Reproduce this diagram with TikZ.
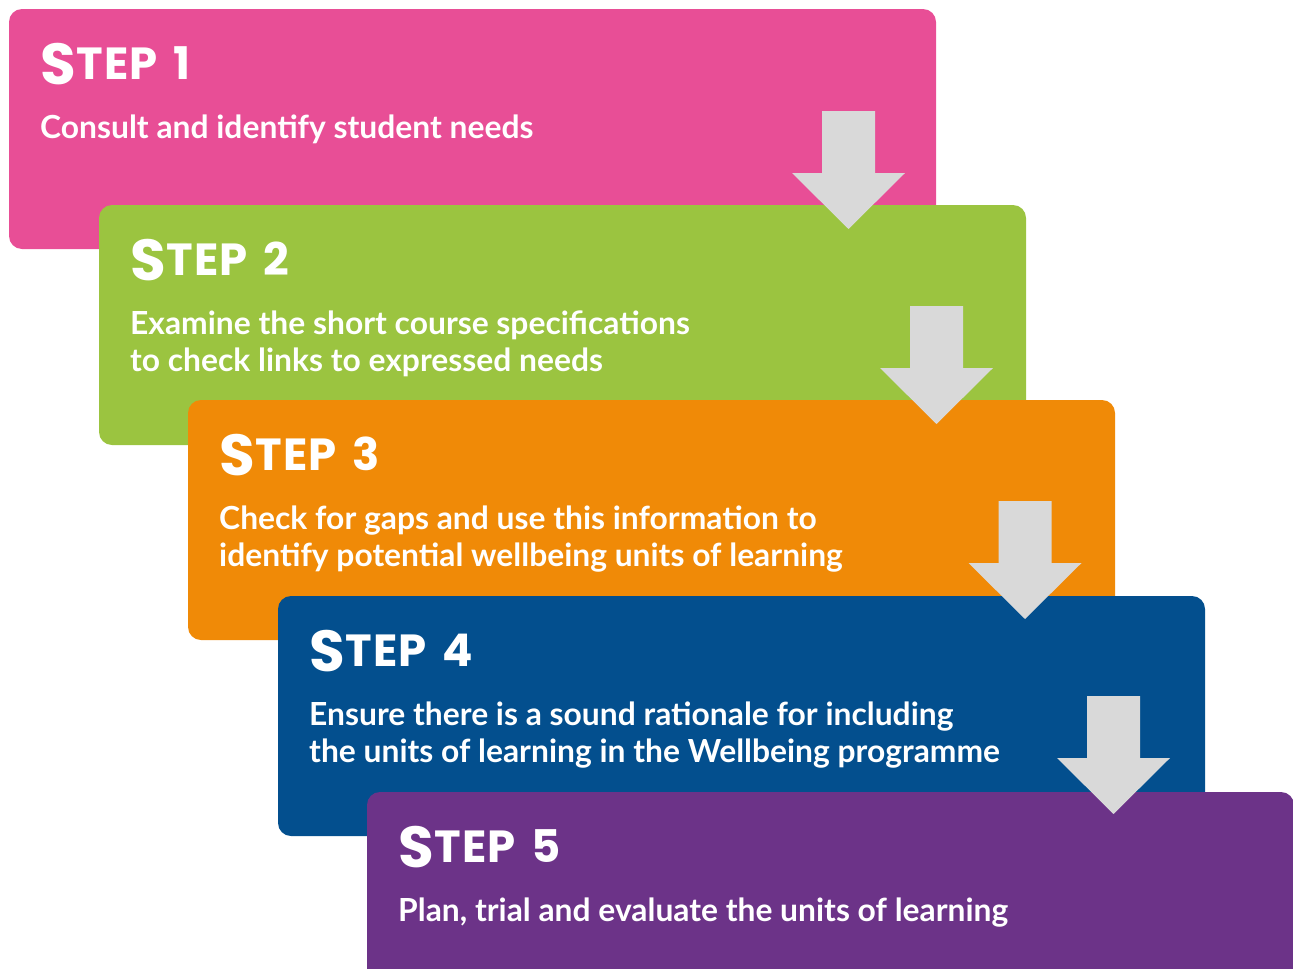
\documentclass[tikz,border=0pt]{standalone}
\usepackage{fontspec}
\setmainfont{Lato}
\newfontfamily\stepfont{Poppins}
\definecolor{cpink}{HTML}{E84E96}
\definecolor{cgreen}{HTML}{9BC440}
\definecolor{corange}{HTML}{F08A07}
\definecolor{cblue}{HTML}{034F8E}
\definecolor{cpurple}{HTML}{6C3388}
\definecolor{cgray}{HTML}{D9D9D9}
\newcommand{\steptitle}[1]{\raisebox{-5pt}{\fontsize{58}{58}\selectfont S}\kern1pt T\kern1pt E\kern1pt P\hspace{16pt}#1}
\begin{document}
\begin{tikzpicture}[x=1pt,y=-1pt,
 box/.style={anchor=north west, rounded corners=13pt, minimum width=927pt, minimum height=240pt, inner sep=0pt, outer sep=0pt},
 steplabel/.style={anchor=base west, inner sep=0pt, text=white, font=\stepfont\bfseries\fontsize{45}{45}\selectfont},
 body/.style={anchor=base west, inner sep=0pt, text=white, font=\bfseries\fontsize{31.8}{37}\selectfont, align=left},
 downarrow/.style={fill=cgray}]
\useasboundingbox (0,0) rectangle (1293,969);
\clip (0,0) rectangle (1293,969);
\newcommand{\darrow}[1]{\fill[downarrow] (#1) ++(-26.5,0) -- ++(53,0) -- ++(0,62) -- ++(30,0) -- ++(-56.5,56) -- ++(-56.5,-56) -- ++(30,0) -- cycle;}
\node[box, fill=cpink] (b1) at (9,9) {};
\node[box, fill=cgreen] (b2) at (99,205) {};
\coordinate (a1) at (848.5,111);
\darrow{a1}
\node[box, fill=corange] (b3) at (188,400) {};
\coordinate (a2) at (936.5,306);
\darrow{a2}
\node[box, fill=cblue] (b4) at (278,596) {};
\coordinate (a3) at (1025,501);
\darrow{a3}
\node[box, fill=cpurple] (b5) at (367,792) {};
\coordinate (a4) at (1113.5,696);
\darrow{a4}

\node[steplabel] (s1) at (40,79) {\steptitle{1}};
\node[body] (t1) at (40,138) {Consult and identify student needs};
\node[steplabel] (s2) at (130,275) {\steptitle{2}};
\node[body] (t2) at (130,371) {Examine the short course specifications\\to check links to expressed needs};
\node[steplabel] (s3) at (219,470) {\steptitle{3}};
\node[body] (t3) at (219,566) {Check for gaps and use this information to\\identify potential wellbeing units of learning};
\node[steplabel] (s4) at (309,666) {\steptitle{4}};
\node[body] (t4) at (309,762) {Ensure there is a sound rationale for including\\the units of learning in the Wellbeing programme};
\node[steplabel] (s5) at (398,862) {\steptitle{5}};
\node[body] (t5) at (398,921) {Plan, trial and evaluate the units of learning};
\end{tikzpicture}
\end{document}
